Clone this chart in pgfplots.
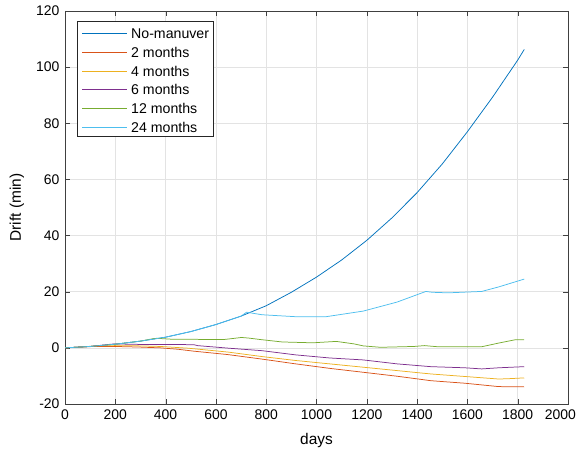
\documentclass[border=0pt]{standalone}
\usepackage{pgfplots}
\pgfplotsset{compat=1.18}
\usepackage{fontspec}
\setmainfont{Liberation Sans}
\setsansfont{Liberation Sans}

\definecolor{mblue}{rgb}{0,0.447,0.741}
\definecolor{mred}{rgb}{0.85,0.325,0.098}
\definecolor{myellow}{rgb}{0.929,0.694,0.125}
\definecolor{mpurple}{rgb}{0.494,0.184,0.556}
\definecolor{mgreen}{rgb}{0.466,0.674,0.188}
\definecolor{mcyan}{rgb}{0.301,0.745,0.933}

\begin{document}
\begin{tikzpicture}
\begin{axis}[
  scale only axis,
  width=503bp, height=393bp,
  xmin=0, xmax=2000, ymin=-20, ymax=120,
  xtick={0,200,...,2000},
  xticklabels={0,200,400,600,800,1000,1200,1400,1600,1800,
    \makebox[0pt][r]{2000\hspace*{-8bp}}},
  ytick={-20,0,...,120},
  xlabel={days}, ylabel={Drift (min)},
  ticklabel style={font=\fontsize{14}{16}\selectfont},
  label style={font=\fontsize{15.5}{18}\selectfont},
  /pgf/number format/assume math mode=true,
  /pgf/number format/1000 sep={},
  grid=major,
  major grid style={gray!22, line width=0.5pt},
  axis line style={black!75},
  tick style={black!75},
  tick align=inside,
  major tick length=5bp,
  xticklabel style={yshift=-2bp},
  yticklabel style={xshift=-2bp},
  xlabel style={at={(axis description cs:0.5,0)}, anchor=center, yshift=-37bp},
  ylabel style={at={(axis description cs:0,0.5)}, anchor=center, yshift=48bp},
  every axis plot/.append style={line width=0.75pt},
]
% No-manuver
\addplot[mblue] coordinates {
 (0,0) (100,0.5) (200,1.3) (300,2.4) (400,3.8) (500,5.8) (600,8.3)
 (700,11.3) (800,15.0) (900,19.8) (1000,25.2) (1100,31.3) (1200,38.3)
 (1300,46.3) (1400,55.3) (1500,65.5) (1600,77.0) (1700,89.3)
 (1800,102.5) (1826,106.3)};
% 2 months
\addplot[mred] coordinates {
 (0,0) (61,0.3) (120,0.5) (198,0.5) (290,0.3) (379,0) (450,-0.5) (514,-1.2)
 (648,-2.4) (783,-4.0) (917,-5.7) (1052,-7.3) (1186,-8.7) (1320,-10.1)
 (1455,-11.7) (1590,-12.6) (1724,-13.8) (1826,-13.9)};
% 4 months
\addplot[myellow] coordinates {
 (0,0) (61,0.3) (122,0.7) (198,0.8) (300,0.7) (379,0.5) (487,-0.1)
 (648,-1.5) (783,-3.1) (917,-4.5) (1052,-5.7) (1186,-6.9) (1320,-8.1)
 (1455,-9.3) (1590,-10.2) (1724,-11.1) (1760,-11.0) (1826,-10.7)};
% 6 months
\addplot[mpurple] coordinates {
 (0,0) (100,0.5) (183,1.3) (198,1.4) (312,1.2) (450,1.2) (514,1.1) (527,0.8)
 (648,-0.1) (783,-1.0) (917,-2.5) (1052,-3.6) (1186,-4.3) (1320,-5.7)
 (1455,-6.7) (1590,-7.1) (1657,-7.5) (1724,-7.1) (1826,-6.7)};
% 12 months
\addplot[mgreen] coordinates {
 (0,0) (100,0.5) (200,1.3) (300,2.4) (352,3.3) (365,3.4) (420,3.1) (560,3.0)
 (635,3.0) (702,3.7) (729,3.5) (783,2.9) (863,2.1) (985,1.8) (1079,2.3)
 (1150,1.4) (1186,0.7) (1254,0.2) (1388,0.5) (1429,0.8) (1482,0.4)
 (1657,0.4) (1724,1.7) (1791,2.9) (1826,2.9)};
% 24 months
\addplot[mcyan] coordinates {
 (0,0) (100,0.5) (200,1.3) (300,2.4) (400,3.8) (500,5.8) (600,8.3)
 (700,11.3) (722,12.7) (783,11.8) (917,11.1) (1038,11.1) (1186,13.1)
 (1320,16.3) (1435,20.1) (1460,19.8) (1523,19.6) (1657,20.1) (1724,21.7)
 (1826,24.5)};
\end{axis}
% legend, drawn by hand in the top left corner of the axis
\begin{scope}[shift={(current axis.north west)}]
  \draw[black!85, line width=1bp, fill=white] (12.5bp,-10.5bp) rectangle (148.5bp,-125.5bp);
  \foreach \c/\t/\y in {mblue/No-manuver/22.5, mred/2 months/41.5,
      myellow/4 months/60.5, mpurple/6 months/78.5, mgreen/12 months/97.5,
      mcyan/24 months/116.5} {
    \draw[\c, line width=1bp] (17bp,-\y bp) -- (62bp,-\y bp);
    \node[anchor=base west, inner sep=0pt, font=\fontsize{14.2}{16}\selectfont]
      at (66bp,{-\y bp-4.8bp}) {\t};
  }
\end{scope}
\path ([shift={(-65bp,-51bp)}]current axis.south west)
  rectangle ([shift={(10bp,11bp)}]current axis.north east);
\end{tikzpicture}
\end{document}
